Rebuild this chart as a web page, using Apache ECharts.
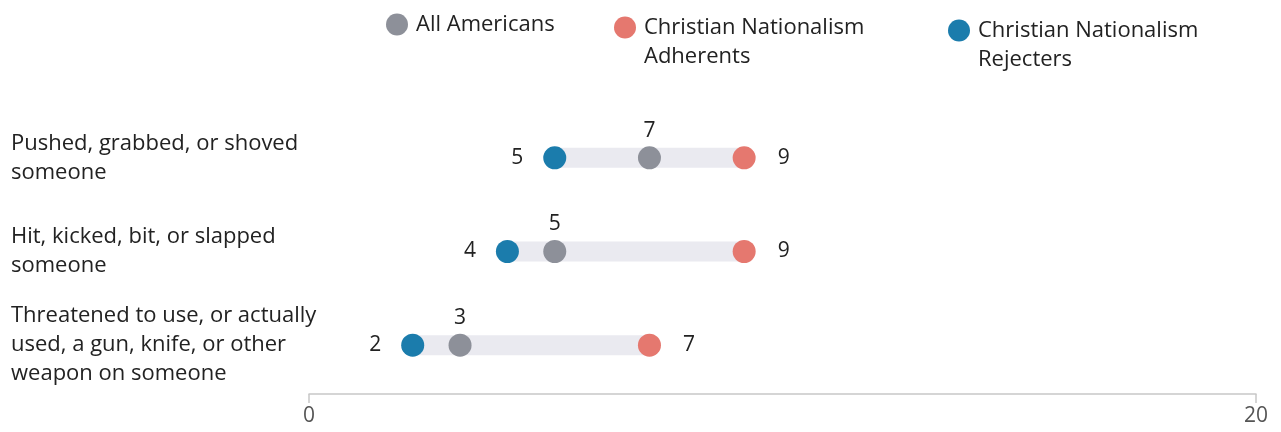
<!DOCTYPE html>
<html>
<head>
<meta charset="utf-8">
<script src="https://cdn.jsdelivr.net/npm/echarts@6/dist/echarts.min.js"></script>
<style>
  html, body { margin: 0; padding: 0; background: #fff; }
  #chart { width: 1281px; height: 432px; }
</style>
</head>
<body>
<div id="chart"></div>
<script>
const categories = [
    'Pushed, grabbed, or shoved\nsomeone',
    'Hit, kicked, bit, or slapped\nsomeone',
    'Threatened to use, or actually\nused, a gun, knife, or other\nweapon on someone'
];
const allAmericans = [7, 5, 3];
const adherents = [9, 9, 7];
const rejecters = [5, 4, 2];

const GRAY = '#8d9099';
const RED = '#e5786f';
const BLUE = '#1b7cac';
const TEXT = '#222';
const FONT = '"Open Sans", sans-serif';

const chart = echarts.init(document.getElementById('chart'));

// icon is centred on the text block, so two-line names get a blank first line
const legendBase = (name, color, left, top, twoLines) => ({
    left: left,
    top: top,
    padding: 0,
    orient: 'horizontal',
    icon: 'circle',
    itemWidth: 22,
    itemHeight: 22,
    selectedMode: false,
    data: [{ name: name, itemStyle: { color: color } }],
    formatter: n => (twoLines ? '\n' + n : n),
    textStyle: {
        fontFamily: FONT,
        fontSize: 22,
        color: TEXT,
        lineHeight: 29,
        padding: [0, 0, 0, 3]
    }
});

const scatterSeries = (name, values, color, labelPos, dist) => ({
    name: name,
    type: 'scatter',
    xAxisIndex: 1,
    yAxisIndex: 0,
    symbolSize: 23,
    z: 3,
    itemStyle: { color: color, opacity: 1 },
    data: values.map((v, i) => [v, i]),
    label: {
        show: true,
        position: labelPos,
        distance: dist,
        fontFamily: FONT,
        fontSize: 21,
        color: TEXT,
        formatter: p => p.value[0]
    }
});

chart.setOption({
    animation: false,
    legend: [
        legendBase('All Americans', GRAY, 386, 10, false),
        legendBase('Christian Nationalism\nAdherents', RED, 614, -16, true),
        legendBase('Christian Nationalism\nRejecters', BLUE, 948, -13, true)
    ],
    grid: [
        { left: 318, right: 16, top: 111, height: 281 },
        { left: 309, right: 25, top: 111, height: 283 }
    ],
    xAxis: [
        {
            gridIndex: 1,
            type: 'value',
            min: 0,
            max: 20,
            interval: 20,
            splitLine: { show: false },
            axisLine: { show: true, lineStyle: { color: '#c8c8c8', width: 1.5 } },
            axisTick: { show: true, length: 9, lineStyle: { color: '#c8c8c8', width: 1.5 } },
            axisLabel: { fontFamily: FONT, fontSize: 21, color: '#555', margin: 12 }
        },
        {
            gridIndex: 0,
            type: 'value',
            min: 0,
            max: 20,
            show: false
        }
    ],
    yAxis: [
        {
            gridIndex: 0,
            type: 'category',
            inverse: true,
            data: categories,
            axisLine: { show: false },
            axisTick: { show: false },
            splitLine: { show: false },
            axisLabel: {
                align: 'left',
                margin: 307,
                fontFamily: FONT,
                fontSize: 22,
                lineHeight: 29,
                color: TEXT
            }
        },
        {
            gridIndex: 1,
            type: 'value',
            show: false
        }
    ],
    series: [
        {
            name: 'range',
            type: 'custom',
            xAxisIndex: 1,
            yAxisIndex: 0,
            z: 1,
            data: categories.map((c, i) => [i, rejecters[i], adherents[i]]),
            encode: { x: [1, 2], y: 0 },
            renderItem: (params, api) => {
                const a = api.coord([api.value(1), api.value(0)]);
                const b = api.coord([api.value(2), api.value(0)]);
                const h = 20;
                return {
                    type: 'rect',
                    shape: { x: a[0], y: a[1] - h / 2, width: b[0] - a[0], height: h },
                    style: { fill: '#eaeaf0' }
                };
            }
        },
        scatterSeries('All Americans', allAmericans, GRAY, 'top', 5),
        scatterSeries('Christian Nationalism\nAdherents', adherents, RED, 'right', 22),
        scatterSeries('Christian Nationalism\nRejecters', rejecters, BLUE, 'left', 20)
    ]
});
</script>
</body>
</html>
